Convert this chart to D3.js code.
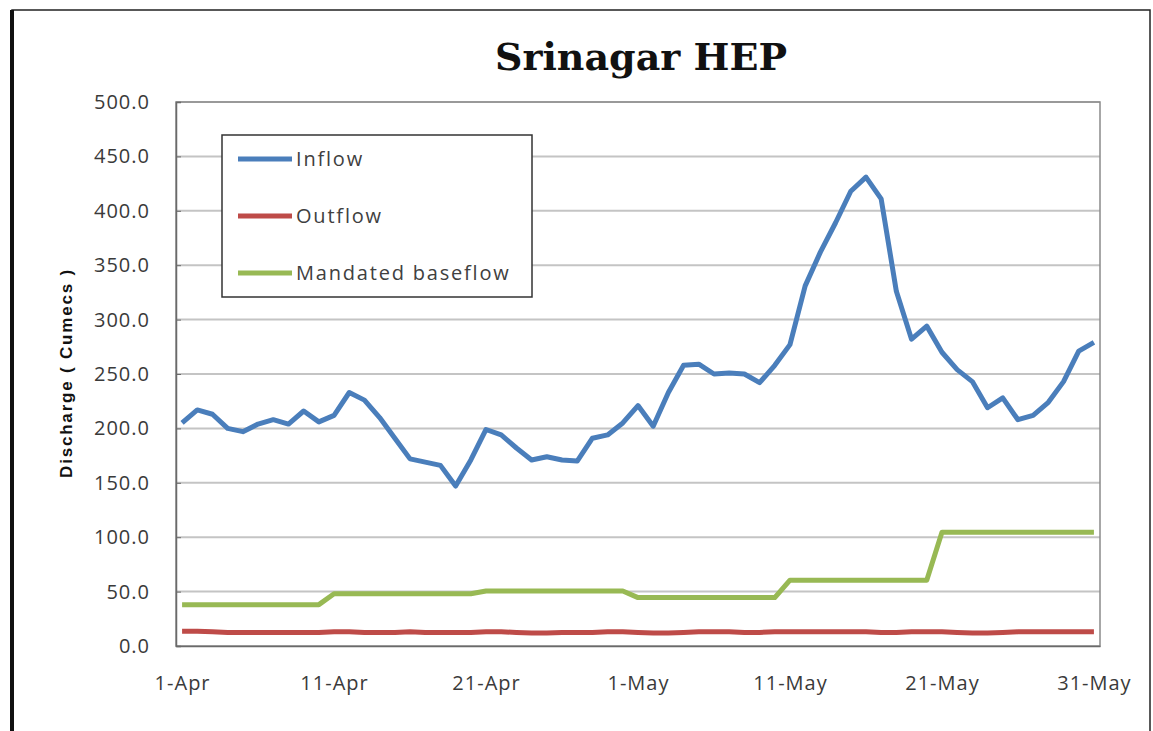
<!DOCTYPE html>
<html>
<head>
<meta charset="utf-8">
<script src="https://cdnjs.cloudflare.com/ajax/libs/d3/7.8.5/d3.min.js"></script>
<style>
  body { margin: 0; background: #fff; }
  text { font-family: "Open Sans", "Noto Sans", sans-serif; }
</style>
</head>
<body>
<script>
var svgWidth = 1153;
var svgHeight = 731;

// plot area of the chart
var chartMargin = { top: 102, right: 53, bottom: 85, left: 176 };
var chartWidth = svgWidth - chartMargin.left - chartMargin.right;
var chartHeight = svgHeight - chartMargin.top - chartMargin.bottom;

// 1-Apr .. 31-May, one value per day
var days = [];
for (var d = 1; d <= 30; d++) days.push(d + "-Apr");
for (var d = 1; d <= 31; d++) days.push(d + "-May");

var tickDays = ["1-Apr", "11-Apr", "21-Apr", "1-May", "11-May", "21-May", "31-May"];
var yTicks = [0, 50, 100, 150, 200, 250, 300, 350, 400, 450, 500];

var inflow = [205, 217, 213, 200, 197, 204, 208, 204, 216, 206,
              212, 233, 226, 210, 191, 172, 169, 166, 147, 171,
              199, 194, 182, 171, 174, 171, 170, 191, 194, 205,
              221, 202, 233, 258, 259, 250, 251, 250, 242, 258,
              277, 331, 362, 389, 418, 431, 411, 326, 282, 294,
              270, 254, 243, 219, 228, 208, 212, 224, 243, 271,
              279];

var outflow = [13.5, 13.5, 13, 12.5, 12.5, 12.5, 12.5, 12.5, 12.5, 12.5,
               13, 13, 12.5, 12.5, 12.5, 13, 12.5, 12.5, 12.5, 12.5,
               13, 13, 12.5, 12, 12, 12.5, 12.5, 12.5, 13, 13,
               12.5, 12, 12, 12.5, 13, 13, 13, 12.5, 12.5, 13,
               13, 13, 13, 13, 13, 13, 12.5, 12.5, 13, 13,
               13, 12.5, 12, 12, 12.5, 13, 13, 13, 13, 13,
               13];

var baseflow = [38, 38, 38, 38, 38, 38, 38, 38, 38, 38,
                48, 48, 48, 48, 48, 48, 48, 48, 48, 48,
                50.5, 50.5, 50.5, 50.5, 50.5, 50.5, 50.5, 50.5, 50.5, 50.5,
                44.5, 44.5, 44.5, 44.5, 44.5, 44.5, 44.5, 44.5, 44.5, 44.5,
                60.5, 60.5, 60.5, 60.5, 60.5, 60.5, 60.5, 60.5, 60.5, 60.5,
                104.5, 104.5, 104.5, 104.5, 104.5, 104.5, 104.5, 104.5, 104.5, 104.5,
                104.5];

var seriesNames = ["Inflow", "Outflow", "Mandated baseflow"];
var seriesColors = ["#4a7ebb", "#be4b48", "#98b954"];
var allSeries = [inflow, outflow, baseflow];

var svg = d3.select("body")
  .append("svg")
  .attr("width", svgWidth)
  .attr("height", svgHeight);

// outer frame of the chart
svg.append("rect")
  .attr("x", 12).attr("y", 10)
  .attr("width", 1138).attr("height", 740)
  .attr("fill", "none")
  .attr("stroke", "#222")
  .attr("stroke-width", 1.5);
svg.append("line")
  .attr("x1", 12).attr("x2", 12)
  .attr("y1", 10).attr("y2", svgHeight)
  .attr("stroke", "#111")
  .attr("stroke-width", 4);

svg.append("text")
  .attr("x", 641)
  .attr("y", 70)
  .attr("text-anchor", "middle")
  .style("font-family", "'DejaVu Serif', serif")
  .style("font-weight", "bold")
  .style("font-size", "38px")
  .attr("fill", "#111")
  .text("Srinagar HEP");

var chartGroup = svg.append("g")
  .attr("transform", `translate(${chartMargin.left}, ${chartMargin.top})`);

var xScale = d3.scalePoint()
  .domain(days)
  .range([0, chartWidth])
  .padding(0.4);

var yScale = d3.scaleLinear()
  .domain([0, 500])
  .range([chartHeight, 0]);

// horizontal gridlines
chartGroup.append("g")
  .selectAll("line")
  .data(yTicks.slice(1))
  .enter().append("line")
  .attr("x1", 0).attr("x2", chartWidth)
  .attr("y1", d => yScale(d)).attr("y2", d => yScale(d))
  .attr("stroke", "#c4c4c4")
  .attr("stroke-width", 2);

// plot area border
chartGroup.append("rect")
  .attr("x", 0).attr("y", 0)
  .attr("width", chartWidth).attr("height", chartHeight)
  .attr("fill", "none")
  .attr("stroke", "#8a8a8a")
  .attr("stroke-width", 1.5);

var leftAxis = d3.axisLeft(yScale)
  .tickValues(yTicks)
  .tickFormat(d3.format(".1f"))
  .tickSize(-5)
  .tickPadding(26);

var bottomAxis = d3.axisBottom(xScale)
  .tickValues(tickDays)
  .tickSize(0)
  .tickPadding(37);

var yAxisG = chartGroup.append("g").call(leftAxis);
var xAxisG = chartGroup.append("g")
  .attr("transform", `translate(0, ${chartHeight})`)
  .call(bottomAxis);

[yAxisG, xAxisG].forEach(g => {
  g.select(".domain").attr("stroke", "#6a6a6a").attr("stroke-width", 1.5);
  g.selectAll(".tick line").attr("stroke", "#6a6a6a");
  g.selectAll("text")
    .style("font-size", "20px")
    .style("letter-spacing", "1px")
    .style("font-family", "'Open Sans', sans-serif")
    .attr("fill", "#3a3a3a");
});
xAxisG.selectAll("text").attr("dy", "0.35em");

svg.append("text")
  .attr("transform", "translate(72, 373) rotate(-90)")
  .attr("text-anchor", "middle")
  .style("font-size", "17px")
  .style("letter-spacing", "1.8px")
  .style("font-weight", "bold")
  .style("font-family", "'Liberation Sans', sans-serif")
  .attr("fill", "#111")
  .text("Discharge ( Cumecs )");

var line = d3.line()
  .x((v, i) => xScale(days[i]))
  .y(v => yScale(v));

// draw outflow and baseflow first, inflow on top
[1, 2, 0].forEach(k => {
  chartGroup.append("path")
    .datum(allSeries[k])
    .attr("fill", "none")
    .attr("stroke", seriesColors[k])
    .attr("stroke-width", 5)
    .attr("stroke-linejoin", "round")
    .attr("d", line);
});

// legend
var legend = svg.append("g").attr("transform", "translate(222, 135)");
legend.append("rect")
  .attr("width", 310).attr("height", 162)
  .attr("fill", "#fff")
  .attr("stroke", "#333")
  .attr("stroke-width", 1.5);

var items = legend.selectAll(".item")
  .data(seriesNames)
  .enter().append("g")
  .attr("transform", (s, i) => `translate(16, ${24 + i * 57})`);
items.append("line")
  .attr("x1", 0).attr("x2", 54)
  .attr("stroke", (s, i) => seriesColors[i])
  .attr("stroke-width", 5);
items.append("text")
  .attr("x", 58).attr("y", 7)
  .style("font-size", "20px")
  .style("letter-spacing", "1.8px")
  .attr("fill", "#404040")
  .text(s => s);
</script>
</body>
</html>
